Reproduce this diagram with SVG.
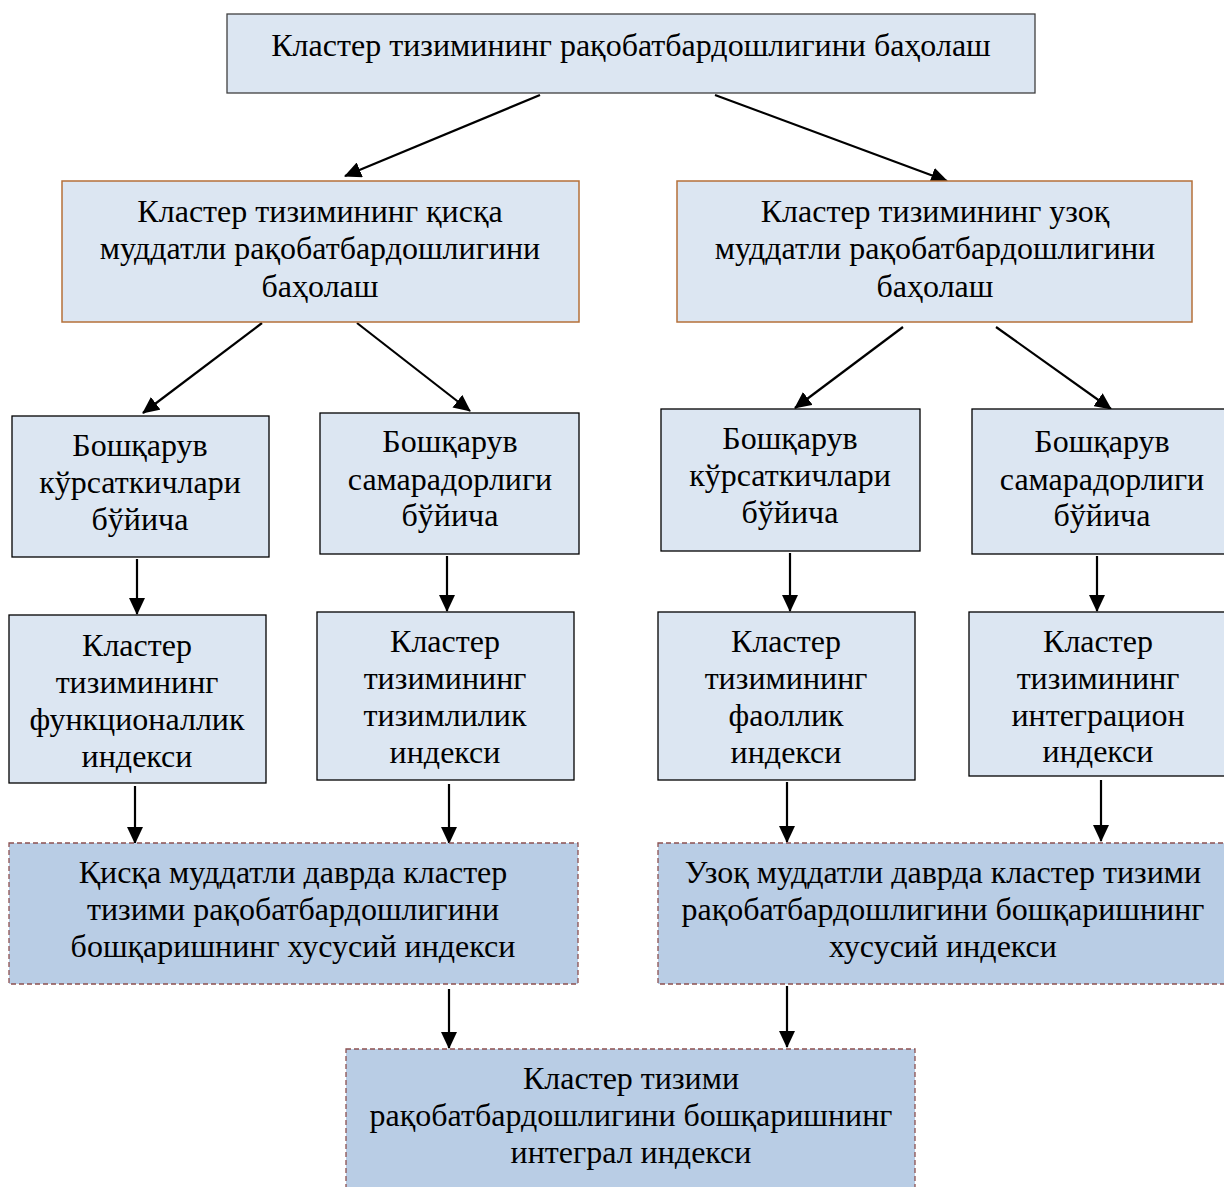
<svg xmlns="http://www.w3.org/2000/svg" width="1224" height="1187" viewBox="0 0 1224 1187">
<defs>
<style>
text{font-family:"Liberation Serif","Times New Roman",serif;font-size:32px;fill:#000;text-anchor:middle;dominant-baseline:central}
.n1{fill:#dce6f2;stroke:#404040;stroke-width:1.3}
.n2{fill:#dce6f2;stroke:#b5703a;stroke-width:1.5}
.n3{fill:#dce6f2;stroke:#000;stroke-width:1.3}
.n4{fill:#b9cde5;stroke:#8c5050;stroke-width:1.3;stroke-dasharray:5 3}
.c{stroke:#000;stroke-width:2.2;fill:none;marker-end:url(#ah)}
</style>
<marker id="ah" markerUnits="userSpaceOnUse" markerWidth="17" markerHeight="16" refX="16" refY="8" orient="auto">
<path d="M0,0 L17,8 L0,16 Z" fill="#000"/>
</marker>
</defs>
<rect width="1224" height="1187" fill="#fff"/>
<g id="connectors">
<line class="c" x1="540" y1="95" x2="345" y2="176"/>
<line class="c" x1="715" y1="95" x2="947" y2="181"/>
<line class="c" x1="262" y1="323" x2="143" y2="413"/>
<line class="c" x1="357" y1="323" x2="470" y2="411"/>
<line class="c" x1="903" y1="327" x2="795" y2="408"/>
<line class="c" x1="996" y1="327" x2="1111" y2="409"/>
<line class="c" x1="137" y1="559" x2="137" y2="614"/>
<line class="c" x1="447" y1="556" x2="447" y2="611"/>
<line class="c" x1="790" y1="553" x2="790" y2="611"/>
<line class="c" x1="1097" y1="556" x2="1097" y2="611"/>
<line class="c" x1="135" y1="786" x2="135" y2="843"/>
<line class="c" x1="449" y1="784" x2="449" y2="843"/>
<line class="c" x1="787" y1="782" x2="787" y2="842"/>
<line class="c" x1="1101" y1="780" x2="1101" y2="841"/>
<line class="c" x1="449" y1="989" x2="449" y2="1048"/>
<line class="c" x1="787" y1="986" x2="787" y2="1047"/>
</g>
<g id="top">
<rect class="n1" x="227" y="14" width="808" height="79"/>
<text x="631" y="45">Кластер тизимининг рақобатбардошлигини баҳолаш</text>
</g>
<g id="short">
<rect class="n2" x="62" y="181" width="517" height="141"/>
<text x="320" y="211">Кластер тизимининг қисқа</text>
<text x="320" y="248">муддатли рақобатбардошлигини</text>
<text x="320" y="286">баҳолаш</text>
</g>
<g id="long">
<rect class="n2" x="677" y="181" width="515" height="141"/>
<text x="935" y="211">Кластер тизимининг узоқ</text>
<text x="935" y="248">муддатли рақобатбардошлигини</text>
<text x="935" y="286">баҳолаш</text>
</g>
<g id="s-ind">
<rect class="n3" x="12" y="416" width="257" height="141"/>
<text x="140" y="445">Бошқарув</text>
<text x="140" y="482">кўрсаткичлари</text>
<text x="140" y="519">бўйича</text>
</g>
<g id="s-eff">
<rect class="n3" x="320" y="413" width="259" height="141"/>
<text x="450" y="441">Бошқарув</text>
<text x="450" y="479">самарадорлиги</text>
<text x="450" y="515">бўйича</text>
</g>
<g id="l-ind">
<rect class="n3" x="661" y="409" width="259" height="142"/>
<text x="790" y="438">Бошқарув</text>
<text x="790" y="475">кўрсаткичлари</text>
<text x="790" y="512">бўйича</text>
</g>
<g id="l-eff">
<rect class="n3" x="972" y="409" width="260" height="145"/>
<text x="1102" y="441">Бошқарув</text>
<text x="1102" y="479">самарадорлиги</text>
<text x="1102" y="515">бўйича</text>
</g>
<g id="func">
<rect class="n3" x="9" y="615" width="257" height="168"/>
<text x="137" y="645">Кластер</text>
<text x="137" y="682">тизимининг</text>
<text x="137" y="719">функционаллик</text>
<text x="137" y="756">индекси</text>
</g>
<g id="syst">
<rect class="n3" x="317" y="612" width="257" height="168"/>
<text x="445" y="641">Кластер</text>
<text x="445" y="678">тизимининг</text>
<text x="445" y="715">тизимлилик</text>
<text x="445" y="752">индекси</text>
</g>
<g id="act">
<rect class="n3" x="658" y="612" width="257" height="168"/>
<text x="786" y="641">Кластер</text>
<text x="786" y="678">тизимининг</text>
<text x="786" y="715">фаоллик</text>
<text x="786" y="752">индекси</text>
</g>
<g id="integ">
<rect class="n3" x="969" y="612" width="262" height="164"/>
<text x="1098" y="641">Кластер</text>
<text x="1098" y="678">тизимининг</text>
<text x="1098" y="715">интеграцион</text>
<text x="1098" y="751">индекси</text>
</g>
<g id="s-priv">
<rect class="n4" x="9" y="843" width="569" height="141"/>
<text x="293" y="872">Қисқа муддатли даврда кластер</text>
<text x="293" y="909">тизими рақобатбардошлигини</text>
<text x="293" y="946">бошқаришнинг хусусий индекси</text>
</g>
<g id="l-priv">
<rect class="n4" x="658" y="843" width="573" height="141"/>
<text x="943" y="872">Узоқ муддатли даврда кластер тизими</text>
<text x="943" y="909">рақобатбардошлигини бошқаришнинг</text>
<text x="943" y="946">хусусий индекси</text>
</g>
<g id="integral">
<rect class="n4" x="346" y="1049" width="569" height="145"/>
<text x="631" y="1078">Кластер тизими</text>
<text x="631" y="1115">рақобатбардошлигини бошқаришнинг</text>
<text x="631" y="1152">интеграл индекси</text>
</g>
</svg>
